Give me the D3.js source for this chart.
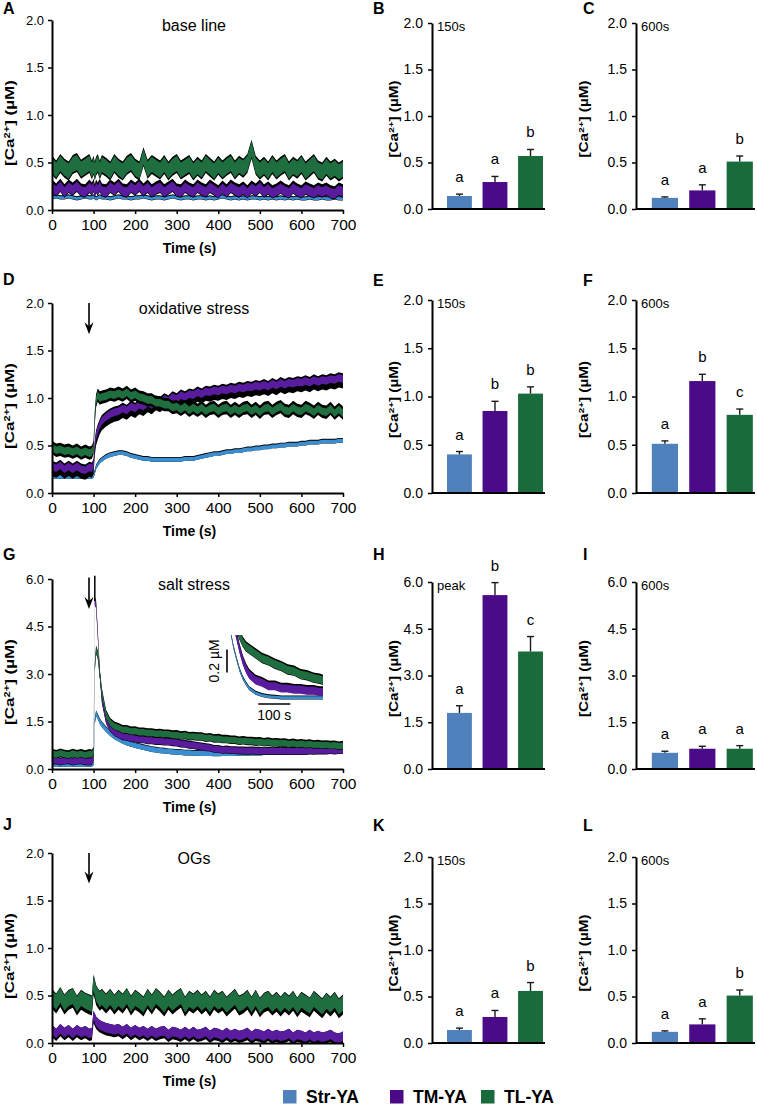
<!DOCTYPE html>
<html>
<head>
<meta charset="utf-8">
<script src="https://cdn.jsdelivr.net/npm/d3@7"></script>
<style>
  body { margin: 0; background: #fff; }
  text { font-family: "Liberation Sans", Arial, sans-serif; fill: #000; }
</style>
</head>
<body>
<div id="chart"></div>
<script>
const W = 757, H = 1108;

const groups = ["Str-YA", "TM-YA", "TL-YA"];
const barColors = ["#4f81bd", "#4b0a88", "#196b3b"];
const lineColors = ["#3a8fd2", "#5a1c9e", "#1f6e40"];

// sample times (s) shared by all traces
const traceTime = [
  0,10,20,30,40,50,60,70,80,90,
  96,100,103,106,110,115,120,130,140,150,
  160,170,180,190,200,210,220,230,240,250,
  260,270,280,290,300,310,320,330,340,350,
  360,370,380,390,400,410,420,430,440,450,
  460,470,480,490,500,510,520,530,540,550,
  560,570,580,590,600,610,620,630,640,650,
  660,670,680,690,700];

// A: base line
const blueA = [
  0.13,0.14,0.13,0.13,0.14,0.13,0.12,0.13,0.14,0.13,
  0.13,0.14,0.13,0.12,0.13,0.14,0.13,0.13,0.12,0.13,
  0.14,0.13,0.13,0.12,0.13,0.13,0.14,0.13,0.12,0.13,
  0.13,0.12,0.13,0.14,0.13,0.12,0.13,0.13,0.12,0.13,
  0.13,0.12,0.13,0.12,0.13,0.14,0.13,0.12,0.13,0.12,
  0.13,0.12,0.13,0.13,0.12,0.13,0.12,0.13,0.12,0.13,
  0.12,0.13,0.12,0.13,0.12,0.12,0.13,0.12,0.12,0.13,
  0.12,0.12,0.13,0.12,0.12];
const purpleA = [
  0.24,0.20,0.25,0.19,0.24,0.21,0.25,0.20,0.19,0.24,
  0.21,0.25,0.19,0.24,0.21,0.25,0.20,0.19,0.24,0.21,
  0.25,0.20,0.19,0.24,0.21,0.25,0.20,0.24,0.19,0.22,
  0.24,0.19,0.22,0.25,0.20,0.19,0.24,0.21,0.19,0.24,
  0.21,0.19,0.24,0.21,0.18,0.23,0.19,0.24,0.21,0.19,
  0.22,0.18,0.23,0.20,0.24,0.19,0.22,0.18,0.20,0.23,
  0.20,0.18,0.23,0.20,0.18,0.22,0.20,0.18,0.21,0.19,
  0.21,0.18,0.17,0.21,0.19];
const greenA = [
  0.47,0.42,0.49,0.44,0.41,0.48,0.50,0.43,0.46,0.49,
  0.42,0.47,0.41,0.46,0.49,0.42,0.48,0.45,0.41,0.49,
  0.44,0.41,0.47,0.50,0.44,0.41,0.56,0.43,0.48,0.45,
  0.42,0.48,0.41,0.46,0.49,0.42,0.45,0.48,0.41,0.46,
  0.42,0.49,0.45,0.41,0.47,0.42,0.46,0.49,0.42,0.47,
  0.44,0.49,0.64,0.47,0.42,0.46,0.41,0.48,0.42,0.46,
  0.49,0.41,0.46,0.43,0.48,0.41,0.45,0.49,0.42,0.40,
  0.46,0.41,0.44,0.40,0.43];

// D: oxidative stress
const blueD = [
  0.17,0.17,0.17,0.17,0.17,0.17,0.17,0.17,0.17,0.17,
  0.17,0.18,0.22,0.27,0.30,0.33,0.35,0.38,0.40,0.41,
  0.42,0.42,0.41,0.39,0.38,0.37,0.36,0.36,0.35,0.35,
  0.35,0.35,0.35,0.35,0.35,0.35,0.36,0.36,0.36,0.37,
  0.38,0.39,0.40,0.41,0.41,0.42,0.43,0.43,0.44,0.44,
  0.45,0.46,0.46,0.47,0.47,0.48,0.48,0.49,0.49,0.50,
  0.50,0.51,0.51,0.51,0.52,0.52,0.53,0.53,0.53,0.54,
  0.54,0.54,0.54,0.55,0.55];
const purpleD = [
  0.28,0.26,0.29,0.25,0.28,0.25,0.28,0.25,0.24,0.27,
  0.26,0.30,0.50,0.60,0.66,0.72,0.76,0.80,0.83,0.85,
  0.86,0.89,0.87,0.91,0.89,0.93,0.91,0.95,0.93,0.97,
  0.95,0.99,0.97,1.01,0.99,1.03,1.01,1.04,1.03,1.06,
  1.04,1.07,1.06,1.08,1.07,1.09,1.08,1.10,1.09,1.11,
  1.10,1.12,1.11,1.13,1.12,1.14,1.12,1.15,1.13,1.16,
  1.14,1.16,1.15,1.17,1.16,1.18,1.16,1.19,1.17,1.19,
  1.18,1.20,1.19,1.21,1.20];
const greenD = [
  0.48,0.45,0.46,0.44,0.45,0.43,0.45,0.42,0.44,0.42,
  0.43,0.48,0.80,0.97,1.03,1.00,1.01,1.02,1.04,1.03,
  1.05,1.03,1.06,1.02,1.04,1.01,1.00,0.98,0.98,0.95,
  0.95,0.93,0.93,0.90,0.91,0.88,0.91,0.87,0.90,0.87,
  0.90,0.86,0.89,0.90,0.86,0.89,0.90,0.86,0.89,0.86,
  0.89,0.90,0.86,0.89,0.85,0.89,0.90,0.86,0.89,0.91,
  0.87,0.86,0.90,0.87,0.86,0.90,0.88,0.85,0.89,0.86,
  0.85,0.89,0.84,0.88,0.84];

// G: salt stress
const blueG = [
  0.15,0.16,0.15,0.15,0.16,0.15,0.15,0.16,0.15,0.15,
  0.15,0.20,1.50,1.75,1.65,1.50,1.40,1.25,1.12,1.02,
  0.95,0.88,0.82,0.78,0.74,0.71,0.68,0.65,0.62,0.60,
  0.58,0.57,0.55,0.54,0.53,0.52,0.51,0.51,0.50,0.50,
  0.49,0.49,0.49,0.48,0.48,0.49,0.49,0.49,0.50,0.50,
  0.50,0.50,0.51,0.51,0.51,0.52,0.52,0.52,0.53,0.53,
  0.53,0.53,0.54,0.54,0.54,0.54,0.55,0.55,0.55,0.55,
  0.55,0.56,0.56,0.56,0.56];
const purpleG = [
  0.25,0.27,0.23,0.26,0.27,0.23,0.26,0.27,0.24,0.23,
  0.25,0.40,5.30,5.20,4.30,3.00,2.20,1.55,1.30,1.16,
  1.09,1.03,1.01,0.97,0.96,0.93,0.93,0.90,0.90,0.88,
  0.88,0.86,0.86,0.84,0.83,0.80,0.79,0.76,0.75,0.72,
  0.71,0.68,0.67,0.63,0.63,0.60,0.61,0.59,0.59,0.58,
  0.58,0.57,0.58,0.57,0.57,0.56,0.57,0.56,0.57,0.56,
  0.57,0.56,0.57,0.57,0.56,0.57,0.58,0.57,0.58,0.58,
  0.58,0.59,0.58,0.59,0.60];
const greenG = [
  0.49,0.45,0.50,0.46,0.44,0.49,0.45,0.48,0.44,0.48,
  0.46,0.55,3.20,3.75,3.60,3.00,2.40,1.72,1.46,1.35,
  1.30,1.24,1.24,1.19,1.20,1.16,1.16,1.14,1.14,1.11,
  1.12,1.10,1.10,1.07,1.08,1.04,1.06,1.02,1.03,1.01,
  1.01,0.97,0.99,0.95,0.96,0.93,0.93,0.91,0.91,0.88,
  0.89,0.87,0.87,0.85,0.86,0.83,0.85,0.82,0.83,0.81,
  0.82,0.79,0.81,0.78,0.80,0.77,0.79,0.76,0.77,0.75,
  0.76,0.74,0.75,0.72,0.74];
const peakErrG = 0.8;

// J: OGs
const purpleJ = [
  0.14,0.10,0.15,0.11,0.14,0.10,0.14,0.11,0.13,0.10,
  0.11,0.29,0.26,0.23,0.21,0.19,0.18,0.16,0.15,0.14,
  0.15,0.12,0.15,0.11,0.14,0.11,0.13,0.10,0.13,0.10,
  0.12,0.13,0.09,0.12,0.11,0.09,0.12,0.09,0.12,0.09,
  0.10,0.12,0.08,0.11,0.10,0.08,0.11,0.08,0.10,0.08,
  0.09,0.11,0.07,0.10,0.09,0.07,0.10,0.07,0.09,0.07,
  0.08,0.10,0.06,0.09,0.08,0.06,0.09,0.06,0.08,0.06,
  0.07,0.09,0.06,0.05,0.07];
const greenJ = [
  0.48,0.43,0.50,0.42,0.47,0.49,0.41,0.47,0.44,0.42,
  0.41,0.63,0.58,0.52,0.49,0.46,0.48,0.43,0.48,0.42,
  0.47,0.43,0.49,0.41,0.47,0.44,0.40,0.48,0.42,0.49,
  0.45,0.40,0.47,0.42,0.46,0.49,0.40,0.46,0.43,0.47,
  0.42,0.46,0.40,0.47,0.43,0.46,0.40,0.44,0.48,0.41,
  0.43,0.47,0.40,0.47,0.39,0.44,0.46,0.41,0.45,0.40,
  0.45,0.41,0.46,0.39,0.45,0.42,0.39,0.46,0.42,0.38,
  0.44,0.40,0.45,0.38,0.42];

// band widths: [coloured half width, sem above, sem below]
const semA = [[0.015,0.025,0.02],[0.05,0.08,0.06],[0.08,0.10,0.10]];
const semD = [[0.02,0.03,0.02],[0.04,0.06,0.10],[0.04,0.07,0.07]];
const semG = [[0.08,0.10,0.08],[0.10,0.13,0.12],[0.10,0.15,0.12]];
const semJ = [null,[0.05,0.05,0.08],[0.08,0.09,0.12]];

// stimulus arrows: [time, from, to]
const arrowD = [89, 2.0, 1.67];
const arrowG = [89, 6.05, 5.05];
const arrowJ = [89, 2.0, 1.68];

// G inset (zoomed decay)
const insetTime = [0,10,20,30,40,50,60,80,100,120,140,160,180,200,220,240,260,280,290];
const insetBlue = [0.62,0.47,0.36,0.26,0.19,0.14,0.10,0.06,0.04,0.03,0.025,0.02,0.02,0.02,0.02,0.02,0.02,0.02,0.02];
const insetPurple = [0.80,0.68,0.56,0.44,0.34,0.27,0.22,0.17,0.15,0.12,0.12,0.10,0.10,0.09,0.09,0.08,0.08,0.07,0.07];
const insetGreen = [0.90,0.75,0.63,0.56,0.50,0.46,0.44,0.40,0.36,0.34,0.31,0.29,0.26,0.25,0.22,0.21,0.19,0.18,0.17];
const semInset = [[0.012,0.02,0.015],[0.035,0.05,0.03],[0.035,0.05,0.04]];

// bar panels
const meanB = [0.14, 0.29, 0.57], errB = [0.02, 0.06, 0.07], sigB = ["a","a","b"];
const meanC = [0.12, 0.20, 0.51], errC = [0.01, 0.06, 0.06], sigC = ["a","a","b"];
const meanE = [0.40, 0.85, 1.03], errE = [0.03, 0.10, 0.07], sigE = ["a","b","b"];
const meanF = [0.51, 1.16, 0.81], errF = [0.03, 0.07, 0.06], sigF = ["a","b","c"];
const meanH = [1.80, 5.58, 3.77], errH = [0.23, 0.40, 0.48], sigH = ["a","b","c"];
const meanI = [0.52, 0.65, 0.65], errI = [0.05, 0.08, 0.10], sigI = ["a","a","a"];
const meanK = [0.14, 0.28, 0.56], errK = [0.02, 0.07, 0.09], sigK = ["a","a","b"];
const meanL = [0.12, 0.20, 0.51], errL = [0.01, 0.06, 0.06], sigL = ["a","a","b"];

const ticks2 = [0, 0.5, 1, 1.5, 2];
const ticks6 = [0, 1.5, 3, 4.5, 6];
const timeTicks = [0,100,200,300,400,500,600,700];

const svg = d3.select("#chart").append("svg")
  .attr("width", W).attr("height", H);

const fmt = d3.format(".1f");
const X0 = 52, X1 = 343;
const tx = d3.scaleLinear().domain([0, 700]).range([X0, X1]);

function styleAxis(g, fontSize) {
  g.select(".domain").attr("stroke", "#000").attr("stroke-width", 2);
  g.selectAll(".tick line").attr("stroke", "#000").attr("stroke-width", 1.5);
  g.selectAll(".tick text").attr("font-size", fontSize)
    .attr("font-family", "Liberation Sans, Arial, sans-serif").attr("fill", "#000");
}

function yLabel(x, yc, len, size) {
  const t = svg.append("text")
    .attr("transform", `translate(${x},${yc}) rotate(-90)`)
    .attr("text-anchor", "middle")
    .attr("font-weight", "bold")
    .attr("font-size", size)
    .attr("textLength", len)
    .attr("lengthAdjust", "spacingAndGlyphs");
  t.append("tspan").text("[Ca");
  t.append("tspan").attr("dy", -4).attr("font-size", size * 0.65).text("2+");
  t.append("tspan").attr("dy", 4).text("] (µM)");
}

function panelLetter(txt, x, y) {
  svg.append("text").attr("x", x).attr("y", y)
    .attr("font-size", 16).attr("font-weight", "bold").text(txt);
}

function drawBands(g, xs, ys, times, series, sems) {
  series.forEach((vals, k) => {
    if (!vals) return;
    const s = sems[k];
    const pts = times.map((t, i) => [t, vals[i]]);
    g.append("path").datum(pts)
      .attr("fill", "#000")
      .attr("d", d3.area().x(d => xs(d[0]))
        .y0(d => ys(d[1] - s[2])).y1(d => ys(d[1] + s[1])));
    g.append("path").datum(pts)
      .attr("fill", lineColors[k])
      .attr("d", d3.area().x(d => xs(d[0]))
        .y0(d => ys(d[1] - s[0])).y1(d => ys(d[1] + s[0])));
  });
}

let clipId = 0;
function drawTrace(p) {
  const y = d3.scaleLinear().domain([0, p.yMax]).range([p.bottom, p.top]);
  const id = "clip" + (clipId++);
  svg.append("clipPath").attr("id", id).append("rect")
    .attr("x", X0).attr("y", p.top).attr("width", X1 - X0).attr("height", p.bottom - p.top);
  const g = svg.append("g").attr("clip-path", `url(#${id})`);
  drawBands(g, tx, y, traceTime, p.series, p.sems);

  if (p.peakErr) {
    const vals = p.series[1];
    const i = d3.maxIndex(vals);
    svg.append("line")
      .attr("x1", tx(traceTime[i])).attr("x2", tx(traceTime[i]))
      .attr("y1", y(vals[i])).attr("y2", y(vals[i] + p.peakErr))
      .attr("stroke", "#000").attr("stroke-width", 1.5);
  }

  svg.append("g").attr("transform", `translate(${X0},0)`)
    .call(d3.axisLeft(y).tickValues(p.ticks).tickFormat(fmt).tickSize(4).tickSizeOuter(0).tickPadding(4))
    .call(g => styleAxis(g, 13));
  svg.append("g").attr("transform", `translate(0,${p.bottom})`)
    .call(d3.axisBottom(tx).tickValues(timeTicks).tickSize(4).tickSizeOuter(0).tickPadding(5))
    .call(g => styleAxis(g, 15.5));

  svg.append("text").attr("x", (X0 + X1) / 2 - 8).attr("y", p.bottom + 43)
    .attr("text-anchor", "middle").attr("font-size", 14).attr("font-weight", "bold")
    .text("Time (s)");
  svg.append("text").attr("x", 194).attr("y", p.top + 11)
    .attr("text-anchor", "middle").attr("font-size", 16).text(p.title);
  yLabel(14, (p.top + p.bottom) / 2 + 8, 86, 13);
  panelLetter(p.letter, 3, p.top - 6 + (p.letterDy || 0));

  if (p.arrow) {
    const ax = tx(p.arrow[0]), ya = y(p.arrow[1]), yb = y(p.arrow[2]);
    svg.append("line").attr("x1", ax).attr("x2", ax).attr("y1", ya).attr("y2", yb - 8)
      .attr("stroke", "#000").attr("stroke-width", 1.6);
    svg.append("path")
      .attr("d", `M${ax - 4.5},${yb - 12} L${ax},${yb} L${ax + 4.5},${yb - 12} L${ax},${yb - 8} Z`)
      .attr("fill", "#000");
  }
  return y;
}

const cols = [[432, 545], [636, 755]];
const letterX = [373, 583];
const labelX = [398, 588];

function drawBars(p) {
  const [x0, x1] = cols[p.col];
  const x = d3.scaleBand().domain(groups).range([x0, x1])
    .paddingInner(0.3).paddingOuter(0.24).align(0.88);
  const y = d3.scaleLinear().domain([0, p.yMax]).range([p.bottom, p.top]);
  const g = svg.append("g");
  g.selectAll("rect").data(groups).join("rect")
    .attr("x", d => x(d)).attr("width", x.bandwidth())
    .attr("y", (d, i) => y(p.mean[i]))
    .attr("height", (d, i) => p.bottom - y(p.mean[i]))
    .attr("fill", (d, i) => barColors[i]);
  // upper error bars
  groups.forEach((d, i) => {
    const cx = x(d) + x.bandwidth() / 2;
    const yt = y(p.mean[i] + p.err[i]);
    g.append("line").attr("x1", cx).attr("x2", cx)
      .attr("y1", y(p.mean[i])).attr("y2", yt)
      .attr("stroke", "#1a1a1a").attr("stroke-width", 1.4);
    g.append("line").attr("x1", cx - 3.5).attr("x2", cx + 3.5)
      .attr("y1", yt).attr("y2", yt)
      .attr("stroke", "#1a1a1a").attr("stroke-width", 1.4);
    g.append("text").attr("x", cx).attr("y", yt - 12)
      .attr("text-anchor", "middle").attr("font-size", 15).text(p.sig[i]);
  });

  svg.append("g").attr("transform", `translate(${x0},0)`)
    .call(d3.axisLeft(y).tickValues(p.ticks).tickFormat(fmt).tickSize(4).tickSizeOuter(0).tickPadding(5))
    .call(g => styleAxis(g, 14));
  svg.append("line").attr("x1", x0).attr("x2", x1)
    .attr("y1", p.bottom).attr("y2", p.bottom)
    .attr("stroke", "#000").attr("stroke-width", 2);

  svg.append("text").attr("x", x0 + 5).attr("y", p.top + 8)
    .attr("font-size", 13).text(p.note);
  yLabel(labelX[p.col], (p.top + p.bottom) / 2 + 3, 77, 12);
  panelLetter(p.letter, letterX[p.col], p.letterY);
}

// trace panels
drawTrace({ letter: "A", title: "base line", top: 20, bottom: 210, yMax: 2, ticks: ticks2,
  series: [blueA, purpleA, greenA], sems: semA, letterDy: 0 });
drawTrace({ letter: "D", title: "oxidative stress", top: 303, bottom: 493, yMax: 2, ticks: ticks2,
  series: [blueD, purpleD, greenD], sems: semD, arrow: arrowD, letterDy: -12 });
drawTrace({ letter: "G", title: "salt stress", top: 579, bottom: 769, yMax: 6, ticks: ticks6,
  series: [blueG, purpleG, greenG], sems: semG, arrow: arrowG, peakErr: peakErrG, letterDy: -13 });
drawTrace({ letter: "J", title: "OGs", top: 853, bottom: 1043, yMax: 2, ticks: ticks2,
  series: [null, purpleJ, greenJ], sems: semJ, arrow: arrowJ, letterDy: -17 });

// G inset
const ix = d3.scaleLinear().domain([0, 290]).range([230, 323]);
const iy = d3.scaleLinear().domain([0, 0.565]).range([700, 635]);
svg.append("clipPath").attr("id", "clipInset").append("rect")
  .attr("x", 230).attr("y", 635).attr("width", 93).attr("height", 67);
const gi = svg.append("g").attr("clip-path", "url(#clipInset)");
drawBands(gi, ix, iy, insetTime, [insetBlue, insetPurple, insetGreen], semInset);
svg.append("line").attr("x1", 227).attr("x2", 227)
  .attr("y1", iy(0.24)).attr("y2", iy(0.44)).attr("stroke", "#000").attr("stroke-width", 1.6);
svg.append("text").attr("transform", `translate(219,${iy(0.34)}) rotate(-90)`)
  .attr("text-anchor", "middle").attr("font-size", 14).text("0.2 µM");
svg.append("line").attr("x1", ix(88)).attr("x2", ix(188))
  .attr("y1", 704).attr("y2", 704).attr("stroke", "#000").attr("stroke-width", 1.6);
svg.append("text").attr("x", ix(138)).attr("y", 720)
  .attr("text-anchor", "middle").attr("font-size", 14).text("100 s");

// bar panels
drawBars({ letter: "B", col: 0, top: 23, bottom: 209, yMax: 2, ticks: ticks2, note: "150s",
  mean: meanB, err: errB, sig: sigB, letterY: 14 });
drawBars({ letter: "C", col: 1, top: 23, bottom: 209, yMax: 2, ticks: ticks2, note: "600s",
  mean: meanC, err: errC, sig: sigC, letterY: 14 });
drawBars({ letter: "E", col: 0, top: 300, bottom: 493, yMax: 2, ticks: ticks2, note: "150s",
  mean: meanE, err: errE, sig: sigE, letterY: 286 });
drawBars({ letter: "F", col: 1, top: 300, bottom: 493, yMax: 2, ticks: ticks2, note: "600s",
  mean: meanF, err: errF, sig: sigF, letterY: 286 });
drawBars({ letter: "H", col: 0, top: 582, bottom: 769, yMax: 6, ticks: ticks6, note: "peak",
  mean: meanH, err: errH, sig: sigH, letterY: 560 });
drawBars({ letter: "I", col: 1, top: 582, bottom: 769, yMax: 6, ticks: ticks6, note: "600s",
  mean: meanI, err: errI, sig: sigI, letterY: 560 });
drawBars({ letter: "K", col: 0, top: 857, bottom: 1043, yMax: 2, ticks: ticks2, note: "150s",
  mean: meanK, err: errK, sig: sigK, letterY: 831 });
drawBars({ letter: "L", col: 1, top: 857, bottom: 1043, yMax: 2, ticks: ticks2, note: "600s",
  mean: meanL, err: errL, sig: sigL, letterY: 831 });

// legend
const legendX = [283, 390, 481];
const lg = svg.append("g");
groups.forEach((name, i) => {
  lg.append("rect").attr("x", legendX[i]).attr("y", 1090)
    .attr("width", 13.5).attr("height", 13.5).attr("fill", barColors[i]);
  lg.append("text").attr("x", legendX[i] + 23).attr("y", 1103)
    .attr("font-size", 17.5).attr("font-weight", "bold").text(name);
});
</script>
</body>
</html>
